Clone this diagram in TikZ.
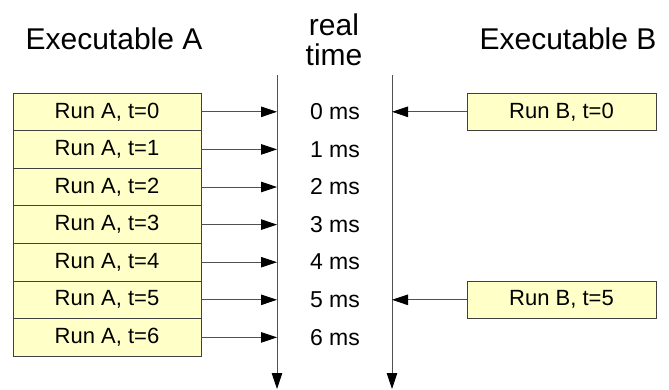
\documentclass[tikz,border=0pt]{standalone}
\usepackage{fontspec}
\setmainfont{Liberation Sans}
\usetikzlibrary{arrows.meta}
\definecolor{boxfill}{HTML}{FFFFC8}
\definecolor{boxline}{HTML}{404040}
\definecolor{wire}{HTML}{505050}
\tikzset{
  runbox/.style={draw=boxline, fill=boxfill, line width=0.9pt,
    minimum width=188pt, minimum height=37.6pt, inner sep=0pt,
    font=\fontsize{22}{26}\selectfont},
  mslabel/.style={inner sep=0pt, anchor=base, font=\fontsize{23}{27}\selectfont},
  heading/.style={inner sep=0pt, anchor=base, font=\fontsize{30}{34}\selectfont},
  hwire/.style={draw=wire, line width=0.9pt,
    -{Triangle[length=16pt,width=10.5pt,black]}},
  vwire/.style={draw=wire, line width=0.9pt,
    -{Triangle[length=16pt,width=10.5pt,black]}}
}
\begin{document}
\begin{tikzpicture}[x=1pt, y=-1pt]
  \useasboundingbox (0,0) rectangle (669,389);

  % headings
  \node[heading] (hA) at (114,49) {Executable A};
  \node[heading] (hB) at (568,49) {Executable B};
  \node[heading] (hreal) at (334,35) {real};
  \node[heading] (htime) at (334,65) {time};

  % the two time axes
  \coordinate (axAtop) at (277,75);
  \coordinate (axAbot) at (277,389);
  \coordinate (axBtop) at (392,75);
  \coordinate (axBbot) at (392,389);
  \draw[vwire] (axAtop) -- (axAbot);
  \draw[vwire] (axBtop) -- (axBbot);

  % runs of executable A and the ms ticks
  \foreach \i in {0,...,6} {
    \pgfmathsetmacro{\yy}{111.8+37.6*\i}
    \pgfmathsetmacro{\yb}{119.5+37.6*\i}
    \node[runbox] (a\i) at (107,\yy) {Run A, t=\i};
    \node[mslabel] (ms\i) at (335,\yb) {\i\ ms};
    \draw[hwire] (a\i.east) -- (a\i.east -| axAtop);
  }

  % runs of executable B
  \node[runbox, minimum width=189pt] (b0) at (561.5,111.8) {Run B, t=0};
  \node[runbox, minimum width=189pt] (b5) at (561.5,299.8) {Run B, t=5};
  \draw[hwire] (b0.west) -- (b0.west -| axBtop);
  \draw[hwire] (b5.west) -- (b5.west -| axBtop);
\end{tikzpicture}
\end{document}
